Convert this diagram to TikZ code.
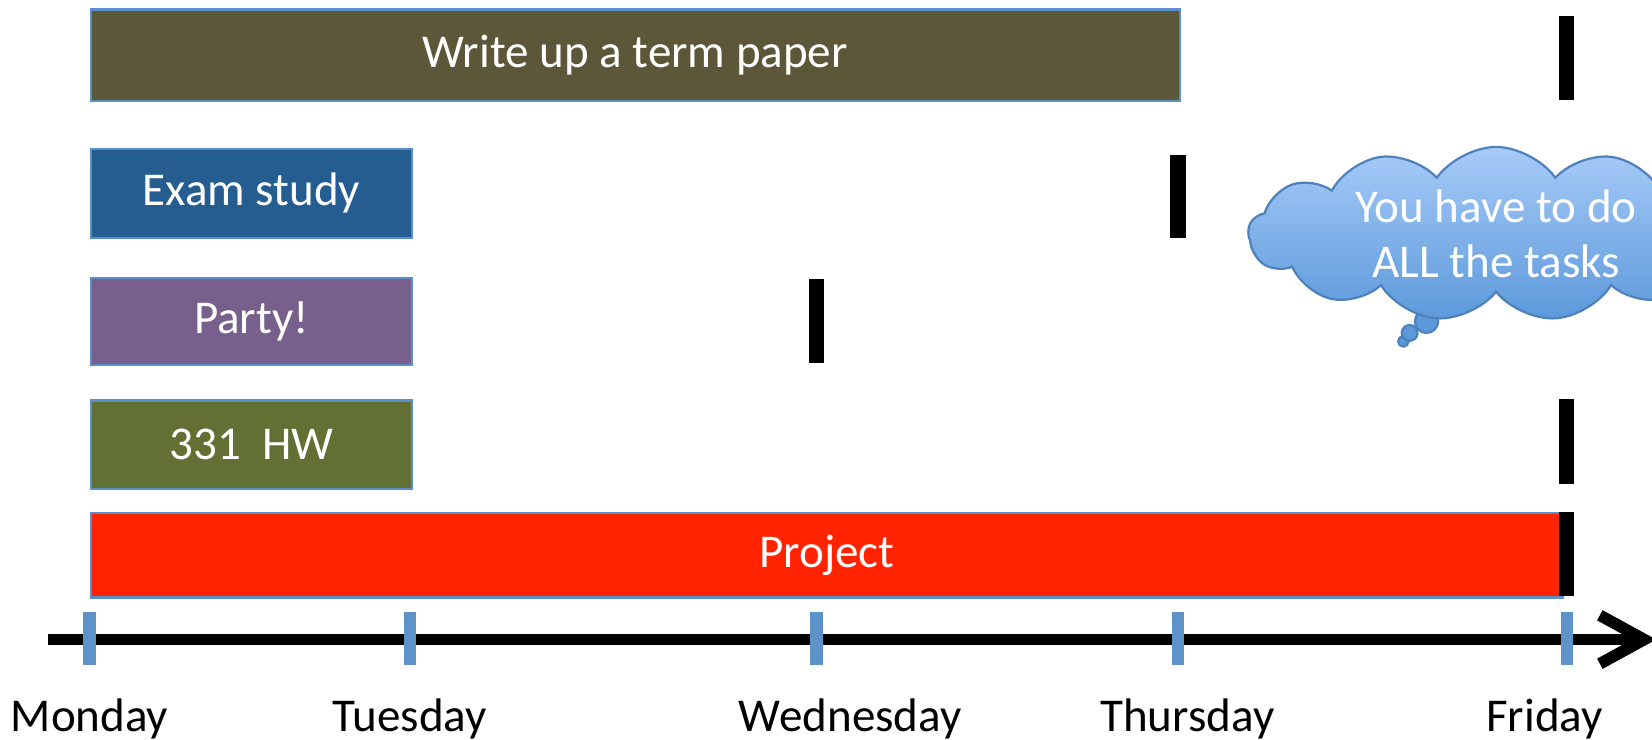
\documentclass[tikz,border=0pt]{standalone}
\usepackage{fontspec}
\setmainfont{Carlito}
\usepackage{tikz}
\usetikzlibrary{arrows.meta, shapes.symbols}
\definecolor{colPaper}{HTML}{5D5739}
\definecolor{colExam}{HTML}{265D91}
\definecolor{colParty}{HTML}{77608C}
\definecolor{colHW}{HTML}{627034}
\definecolor{colProject}{HTML}{FF2300}
\definecolor{colBordo}{HTML}{5B8FCB}
\definecolor{colTacca}{HTML}{5E93C9}
\definecolor{colNuvolaSu}{HTML}{A7CBF8}
\definecolor{colNuvolaGiu}{HTML}{5C99DA}
\definecolor{colNuvolaBordo}{HTML}{4F81BD}
\newcommand{\testo}{\fontsize{12.7pt}{15pt}\selectfont}

\begin{document}
\begin{tikzpicture}[x = 0.01cm, y = -0.01cm,
    barra/.style = {draw = colBordo, line width = 0.6pt, text = white, font = \testo, anchor = north west, inner sep = 0pt},
    scadenza/.style = {line width = 0.145cm, black},
    tacca/.style = {line width = 0.115cm, colTacca},
    giorno/.style = {font = \testo, anchor = base},
    bolla/.style = {draw = colNuvolaBordo, line width = 0.6pt, fill = colNuvolaGiu}]
    \clip (0,0) rectangle (1568,702);
    % Barre dei compiti
    \node[barra, fill = colPaper, minimum width = 10.33cm, minimum height = 0.87cm] (Paper) at (85,8) {Write up a term paper};
    \node[barra, fill = colExam, minimum width = 3.05cm, minimum height = 0.85cm] (Exam) at (85,140) {Exam study};
    \node[barra, fill = colParty, minimum width = 3.05cm, minimum height = 0.82cm] (Party) at (85,263) {Party!};
    \node[barra, fill = colHW, minimum width = 3.05cm, minimum height = 0.84cm] (HW) at (85,379) {331\ \ HW};
    \node[barra, fill = colProject, minimum width = 13.97cm, minimum height = 0.80cm] (Project) at (85,486) {Project};
    % Scadenze
    \draw[scadenza] (1487,15) -- (1487,95);
    \draw[scadenza] (1118,147) -- (1118,226);
    \draw[scadenza] (775,265) -- (775,345);
    \draw[scadenza] (1487,379) -- (1487,459);
    \draw[scadenza] (1487,486) -- (1487,566);
    % Asse dei giorni
    \coordinate (Inizio) at (46,607);
    \coordinate (Fine) at (1572,607);
    \draw[line width = 0.11cm, -{Straight Barb[length = 4.2mm, width = 4.6mm]}] (Inizio) -- (Fine);
    \foreach \x in {85, 389, 775, 1118, 1487}
        \draw[tacca] (\x,581) -- (\x,631);
    % Nomi dei giorni
    \node[giorno] (Mon) at (85,694) {Monday};
    \node[giorno] (Tue) at (389,694) {Tuesday};
    \node[giorno] (Wed) at (807,694) {Wednesday};
    \node[giorno] (Thu) at (1127,694) {Thursday};
    \node[giorno] (Fri) at (1466,694) {Friday};
    % Nuvola
    \draw[bolla] (1332,324) circle (0.05cm);
    \draw[bolla] (1338,316) circle (0.075cm);
    \draw[bolla] (1354,305) circle (0.11cm);
    \node[cloud, cloud puffs = 13, cloud puff arc = 110, cloud ignores aspect, minimum width = 4.7cm, minimum height = 1.65cm, inner sep = 0pt,
        draw = colNuvolaBordo, line width = 0.6pt,
        top color = colNuvolaSu, bottom color = colNuvolaGiu, text = white, font = \testo, align = center]
        (Nuvola) at (1420,222) {You have to do\\ALL the tasks};
\end{tikzpicture}
\end{document}
